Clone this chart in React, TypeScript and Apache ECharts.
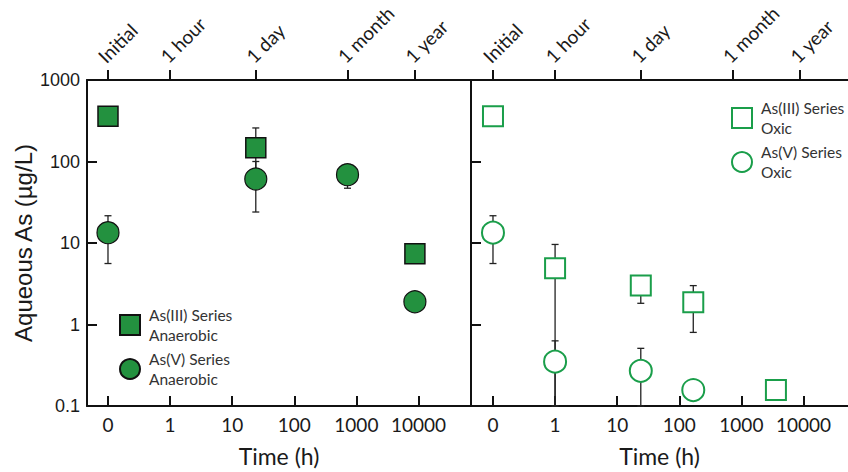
import React, { useEffect, useRef } from "react";
import * as echarts from "echarts";

// ---- data (time in hours, concentration in µg/L) ----
const bottomTickHours = [0, 1, 10, 100, 1000, 10000];
const topTickLabels = ["Initial", "1 hour", "1 day", "1 month", "1 year"];
const topTickHours = [0, 1, 24, 720, 8760];

// Anaerobic
const anAs3Time = [0, 24, 8760];
const anAs3Value = [360, 147, 7.4];
const anAs3Lo = [null, 80, null];
const anAs3Hi = [null, 258, null];

const anAs5Time = [0, 24, 720, 8760];
const anAs5Value = [13.4, 61, 69, 1.9];
const anAs5Lo = [5.6, 24, 47, null];
const anAs5Hi = [21.6, 100, 92, null];

// Oxic
const oxAs3Time = [0, 1, 24, 168, 3600];
const oxAs3Value = [360, 4.9, 3.0, 1.87, 0.157];
const oxAs3Lo = [null, 0.1, 1.82, 0.8, null];
const oxAs3Hi = [null, 9.6, 3.0, 3.0, null];

const oxAs5Time = [0, 1, 24, 168];
const oxAs5Value = [13.4, 0.35, 0.27, 0.157];
const oxAs5Lo = [5.6, 0.1, 0.1, null];
const oxAs5Hi = [21.6, 0.63, 0.51, null];

const seriesNames = [
  "As(III) Series Anaerobic",
  "As(V) Series Anaerobic",
  "As(III) Series Oxic",
  "As(V) Series Oxic",
];

// "0" h is drawn one decade left of 1 h
const pos = (h: number) => (h === 0 ? -1 : Math.log10(h));

const FILL = "#23913f";
const OPEN = "#1a9e4a";
const INK = "#1a1a1a";

function points(t: number[], v: number[]) {
  return t.map((h, i) => [pos(h), v[i]]);
}
function errs(t: number[], lo: (number | null)[], hi: (number | null)[]) {
  const out: number[][] = [];
  t.forEach((h, i) => {
    if (lo[i] != null && hi[i] != null) out.push([pos(h), lo[i] as number, hi[i] as number]);
  });
  return out;
}

const errRender = (params: any, api: any) => {
  const x = api.value(0);
  const pLo = api.coord([x, api.value(1)]);
  const pHi = api.coord([x, api.value(2)]);
  const cap = 3.5;
  const style = { stroke: "#222", lineWidth: 1.3 };
  return {
    type: "group",
    children: [
      { type: "line", shape: { x1: pLo[0], y1: pLo[1], x2: pHi[0], y2: pHi[1] }, style },
      { type: "line", shape: { x1: pHi[0] - cap, y1: pHi[1], x2: pHi[0] + cap, y2: pHi[1] }, style },
      { type: "line", shape: { x1: pLo[0] - cap, y1: pLo[1], x2: pLo[0] + cap, y2: pLo[1] }, style },
    ],
  };
};

export default function App() {
  const ref = useRef<HTMLDivElement>(null);
  useEffect(() => {
    if (!ref.current) return;
    const chart = echarts.init(ref.current, null, { renderer: "svg" });

    const bottomAxis = (grid: number, min: number, max: number) => ({
      type: "value",
      gridIndex: grid,
      position: "bottom",
      min,
      max,
      name: "Time (h)",
      nameLocation: "middle",
      nameGap: 38,
      nameTextStyle: { fontFamily: "Lato", fontSize: 23, color: INK },
      axisLine: { show: true, onZero: false, lineStyle: { color: "#111", width: 2 } },
      axisTick: {
        show: true,
        inside: true,
        length: 10,
        lineStyle: { color: "#111", width: 2 },
        customValues: bottomTickHours.map(pos),
      },
      axisLabel: {
        show: true,
        margin: 9,
        fontFamily: "Lato",
        fontSize: 19,
        color: INK,
        customValues: bottomTickHours.map(pos),
        formatter: (v: number) => (v < -0.5 ? "0" : String(Math.round(Math.pow(10, v)))),
      },
      splitLine: { show: false },
    });

    const topAxis = (grid: number, min: number, max: number) => ({
      type: "value",
      gridIndex: grid,
      position: "top",
      min,
      max,
      axisLine: { show: true, onZero: false, lineStyle: { color: "#111", width: 2 } },
      axisTick: {
        show: true,
        inside: false,
        length: 10,
        lineStyle: { color: "#111", width: 2 },
        customValues: topTickHours.map(pos),
      },
      axisLabel: {
        show: true,
        rotate: -45,
        margin: 14,
        align: "left",
        verticalAlign: "bottom",
        fontFamily: "Lato",
        fontSize: 19,
        color: INK,
        customValues: topTickHours.map(pos),
        formatter: (v: number) => {
          const i = topTickHours.findIndex((h) => Math.abs(pos(h) - v) < 1e-6);
          return i >= 0 ? topTickLabels[i] : "";
        },
      },
      splitLine: { show: false },
    });

    const yAxis = (grid: number, labels: boolean) => ({
      type: "log",
      logBase: 10,
      gridIndex: grid,
      position: "left",
      min: 0.1,
      max: 1000,
      name: labels ? "Aqueous As (µg/L)" : "",
      nameLocation: "middle",
      nameRotate: 90,
      nameGap: 52,
      nameTextStyle: { fontFamily: "Liberation Sans", fontSize: 24, color: INK },
      axisLine: { show: true, onZero: false, lineStyle: { color: "#111", width: 2 } },
      axisTick: { show: true, inside: true, length: 10, lineStyle: { color: "#111", width: 2 } },
      axisLabel: {
        show: labels,
        margin: 7,
        fontFamily: "Liberation Sans",
        fontSize: 18,
        color: INK,
        formatter: (v: number) => String(v),
      },
      splitLine: { show: false },
      minorTick: { show: false },
    });

    const legendBase = {
      orient: "vertical",
      padding: 0,
      itemWidth: 20,
      itemHeight: 20,
      itemGap: 4,
      selectedMode: false,
      formatter: (name: string) => name.replace(" Series ", " Series\n"),
      textStyle: {
        fontFamily: "Lato",
        fontSize: 15.5,
        lineHeight: 20,
        color: "#333",
        padding: [0, 0, 0, 4],
      },
    };

    chart.setOption({
      animation: false,
      backgroundColor: "#fff",
      grid: [
        { left: 87, top: 80, width: 384, height: 326, outerBoundsMode: "none", containLabel: false },
        { left: 471, top: 80, width: 377, height: 326, outerBoundsMode: "none", containLabel: false },
      ],
      xAxis: [
        bottomAxis(0, -1.338, 4.846),
        topAxis(0, -1.338, 4.846),
        bottomAxis(1, -1.354, 4.717),
        topAxis(1, -1.354, 4.717),
      ],
      yAxis: [yAxis(0, true), yAxis(1, false)],
      legend: [
        { ...legendBase, left: 119, top: 305, data: [seriesNames[0], seriesNames[1]] },
        { ...legendBase, left: 731, top: 98, data: [seriesNames[2], seriesNames[3]] },
      ],
      series: [
        {
          type: "custom",
          name: "errAn3",
          xAxisIndex: 0,
          yAxisIndex: 0,
          z: 1,
          renderItem: errRender,
          encode: { x: 0, y: [1, 2] },
          data: errs(anAs3Time, anAs3Lo, anAs3Hi),
        },
        {
          type: "custom",
          name: "errAn5",
          xAxisIndex: 0,
          yAxisIndex: 0,
          z: 1,
          renderItem: errRender,
          encode: { x: 0, y: [1, 2] },
          data: errs(anAs5Time, anAs5Lo, anAs5Hi),
        },
        {
          type: "custom",
          name: "errOx3",
          xAxisIndex: 2,
          yAxisIndex: 1,
          z: 1,
          renderItem: errRender,
          encode: { x: 0, y: [1, 2] },
          data: errs(oxAs3Time, oxAs3Lo, oxAs3Hi),
        },
        {
          type: "custom",
          name: "errOx5",
          xAxisIndex: 2,
          yAxisIndex: 1,
          z: 1,
          renderItem: errRender,
          encode: { x: 0, y: [1, 2] },
          data: errs(oxAs5Time, oxAs5Lo, oxAs5Hi),
        },
        {
          type: "scatter",
          name: seriesNames[0],
          xAxisIndex: 0,
          yAxisIndex: 0,
          z: 3,
          symbol: "rect",
          symbolSize: 20,
          itemStyle: { color: FILL, borderColor: "#111", borderWidth: 1.5, opacity: 1 },
          data: points(anAs3Time, anAs3Value),
        },
        {
          type: "scatter",
          name: seriesNames[1],
          xAxisIndex: 0,
          yAxisIndex: 0,
          z: 3,
          symbol: "circle",
          symbolSize: 22,
          itemStyle: { color: FILL, borderColor: "#111", borderWidth: 1.2, opacity: 1 },
          data: points(anAs5Time, anAs5Value),
        },
        {
          type: "scatter",
          name: seriesNames[2],
          xAxisIndex: 2,
          yAxisIndex: 1,
          z: 3,
          symbol: "rect",
          symbolSize: 20,
          itemStyle: { color: "#fff", borderColor: OPEN, borderWidth: 2, opacity: 1 },
          data: points(oxAs3Time, oxAs3Value),
        },
        {
          type: "scatter",
          name: seriesNames[3],
          xAxisIndex: 2,
          yAxisIndex: 1,
          z: 3,
          symbol: "circle",
          symbolSize: 22,
          itemStyle: { color: "#fff", borderColor: OPEN, borderWidth: 2, opacity: 1 },
          data: points(oxAs5Time, oxAs5Value),
        },
      ],
    });
    return () => chart.dispose();
  }, []);

  return (
    <div
      ref={ref}
      style={{ position: "absolute", left: 0, top: 0, width: 848, height: 472, background: "#fff" }}
    />
  );
}
